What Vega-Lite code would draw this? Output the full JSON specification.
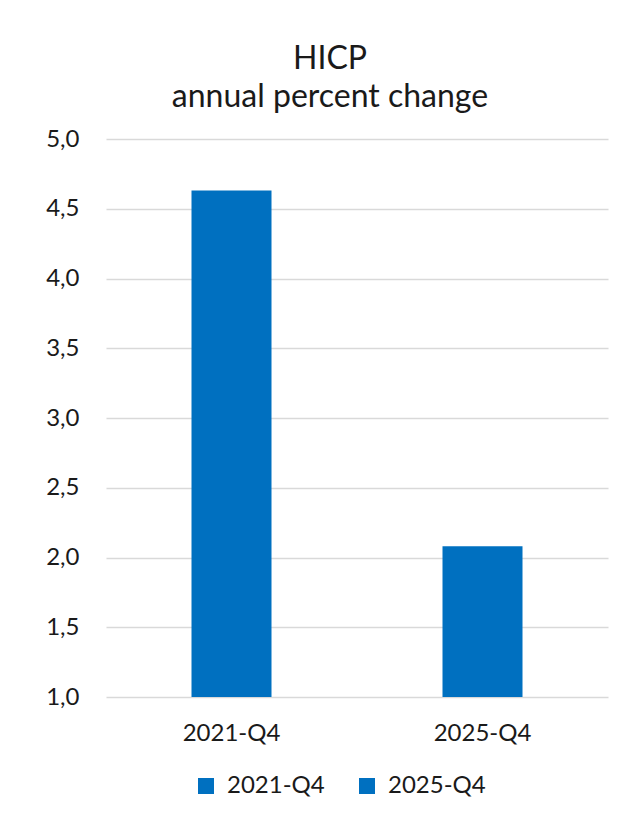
{
  "$schema": "https://vega.github.io/schema/vega-lite/v6.json",
  "width": 502,
  "height": 558,
  "autosize": "none",
  "padding": {"left": 106, "top": 139, "right": 9, "bottom": 118},
  "background": "white",
  "data": {"values": [
    {"period": "2021-Q4", "hicp": 4.63},
    {"period": "2025-Q4", "hicp": 2.08}
  ]},
  "title": {
    "text": ["HICP", "annual percent change"],
    "font": "Lato",
    "fontSize": 32,
    "fontWeight": "normal",
    "color": "#1a1a1a",
    "lineHeight": 38,
    "anchor": "middle",
    "dx": -27,
    "offset": 13
  },
  "mark": {"type": "bar", "size": 80, "color": "#0070C0"},
  "encoding": {
    "x": {
      "field": "period", "type": "nominal", "title": null,
      "scale": {"paddingInner": 0, "paddingOuter": 0},
      "axis": {"labelAngle": 0, "domain": false, "ticks": false, "labelFont": "Lato", "labelFontSize": 24, "labelColor": "#1a1a1a", "labelPadding": 24}
    },
    "y": {
      "field": "hicp", "type": "quantitative", "title": null,
      "scale": {"domain": [1, 5], "nice": false, "zero": false, "clamp": true},
      "axis": {"values": [1, 1.5, 2, 2.5, 3, 3.5, 4, 4.5, 5], "labelExpr": "replace(format(datum.value, '.1f'), '.', ',')", "domain": false, "ticks": false, "labelFont": "Lato", "labelFontSize": 24, "labelColor": "#1a1a1a", "labelPadding": 27, "gridColor": "#D9D9D9", "gridWidth": 1.5}
    },
    "color": {
      "field": "period", "type": "nominal",
      "scale": {"range": ["#0070C0", "#0070C0"]},
      "legend": {"title": null, "orient": "none", "direction": "horizontal", "legendX": 88, "legendY": 635, "padding": 0, "symbolType": "square", "symbolSize": 256, "symbolStrokeWidth": 0, "labelFont": "Lato", "labelFontSize": 24, "labelColor": "#1a1a1a", "labelOffset": 9, "columnPadding": 30}
    }
  },
  "config": {"view": {"stroke": null}}
}
